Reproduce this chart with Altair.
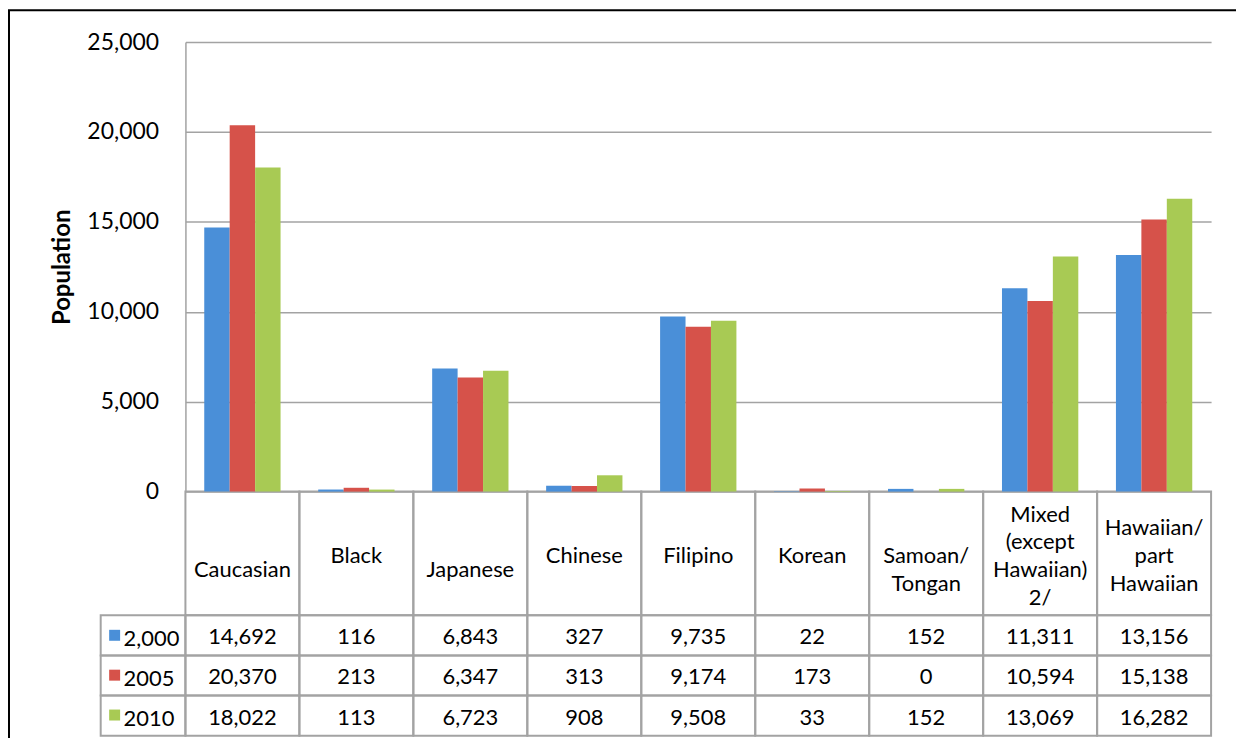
import altair as alt
import pandas as pd

categories = ["Caucasian", "Black", "Japanese", "Chinese", "Filipino", "Korean",
              "Samoan/Tongan", "Mixed (except Hawaiian) 2/", "Hawaiian/part Hawaiian"]
header_lines = [["", "Caucasian"], ["Black"], ["", "Japanese"], ["Chinese"], ["Filipino"],
                ["Korean"], ["", "Samoan/", "Tongan"], ["Mixed", "(except", "Hawaiian)", "2/"],
                ["Hawaiian/", "part", "Hawaiian"]]
years = ["2,000", "2005", "2010"]
pop_2000 = [14692, 116, 6843, 327, 9735, 22, 152, 11311, 13156]
pop_2005 = [20370, 213, 6347, 313, 9174, 173, 0, 10594, 15138]
pop_2010 = [18022, 113, 6723, 908, 9508, 33, 152, 13069, 16282]
y_ticks = [0, 5000, 10000, 15000, 20000, 25000]
colors = ["#4a8fd8", "#d6524a", "#a8ca54"]

series = {"2,000": pop_2000, "2005": pop_2005, "2010": pop_2010}
rows = []
for yr in years:
    for c, v in zip(categories, series[yr]):
        rows.append({"category": c, "year": yr, "value": v})
df = pd.DataFrame(rows)

line_rows = []
for c, lines in zip(categories, header_lines):
    n = len(lines)
    for i, t in enumerate(lines):
        if t:
            line_rows.append({"category": c, "line": t, "pos": i - (n - 1) / 2})
df_lines = pd.DataFrame(line_rows)
df_cats = pd.DataFrame({"category": categories})
df_years = pd.DataFrame({"year": years})
df_frame = pd.DataFrame({"k": [0]})

FONT = "Lato"
GRID = "#a3a3a3"
TXT = 22

x_enc = alt.X("category:N", sort=categories,
              scale=alt.Scale(domain=categories, paddingInner=0, paddingOuter=0),
              axis=None)
row_scale = alt.Scale(domain=years, range=[575, 696], paddingInner=0, paddingOuter=0)

bars = alt.Chart(df).mark_bar().encode(
    x=x_enc,
    xOffset=alt.XOffset("year:N", sort=years,
                        scale=alt.Scale(domain=years, paddingInner=0, paddingOuter=0.74)),
    y=alt.Y("value:Q",
            scale=alt.Scale(domain=[0, 25000], range=[451, 0], nice=False),
            axis=alt.Axis(values=y_ticks, format=",.0f", title="Population",
                          grid=True, gridColor=GRID, gridWidth=1.5,
                          domainColor=GRID, domainWidth=1.5, ticks=False,
                          labelFont=FONT, labelFontSize=23, labelPadding=27,
                          labelColor="black",
                          titleFont=FONT, titleFontSize=24, titleFontWeight="bold",
                          titleColor="black", titlePadding=12)),
    color=alt.Color("year:N", sort=years,
                    scale=alt.Scale(domain=years, range=colors),
                    legend=alt.Legend(title=None, orient="none", legendX=-84, legendY=588,
                                      symbolType="M-0.64,-1.7H1.36V0.3H-0.64Z", symbolSize=121,
                                      symbolStrokeWidth=0, labelFont=FONT,
                                      labelFontSize=TXT, labelColor="black",
                                      labelOffset=0, rowPadding=18, padding=0)),
)

cells = alt.Chart(df).mark_rect(fillOpacity=0, stroke=GRID, strokeWidth=2).encode(
    x=x_enc,
    y=alt.Y("year:N", sort=years, scale=row_scale, axis=None),
)

header_cells = alt.Chart(df_cats).mark_rect(fillOpacity=0, stroke=GRID, strokeWidth=2).encode(
    x=x_enc,
    y=alt.value(451),
    y2=alt.value(575),
)

legend_cells = alt.Chart(df_years).mark_rect(fillOpacity=0, stroke=GRID, strokeWidth=2).encode(
    x=alt.value(-85),
    x2=alt.value(0),
    y=alt.Y("year:N", sort=years, scale=row_scale, axis=None),
)

values_text = alt.Chart(df).mark_text(font=FONT, fontSize=TXT, color="black",
                                      baseline="middle", dy=2).encode(
    x=x_enc,
    y=alt.Y("year:N", sort=years, scale=row_scale, axis=None),
    text=alt.Text("value:Q", format=","),
)

header_text = alt.Chart(df_lines).mark_text(font=FONT, fontSize=TXT, color="black",
                                            baseline="middle", dy=2).encode(
    x=x_enc,
    y=alt.Y("pos:Q", scale=alt.Scale(domain=[-1.5, 1.5], range=[472, 556], nice=False,
                                      zero=False), axis=None),
    text="line:N",
)

frame = alt.Chart(df_frame).mark_rect(fillOpacity=0, stroke="black", strokeWidth=2).encode(
    x=alt.value(-177), x2=alt.value(1300), y=alt.value(-32), y2=alt.value(900),
)

chart = alt.layer(
    frame, header_cells, cells, legend_cells, bars, values_text, header_text
).resolve_scale(y="independent").properties(
    width=1029, height=696,
    autosize=alt.AutoSizeParams(type="none"),
    padding={"left": 178, "top": 33, "right": 25, "bottom": 1},
).configure_view(stroke=None)

chart.save("out.html", embed_options={"renderer": "svg", "actions": False})
